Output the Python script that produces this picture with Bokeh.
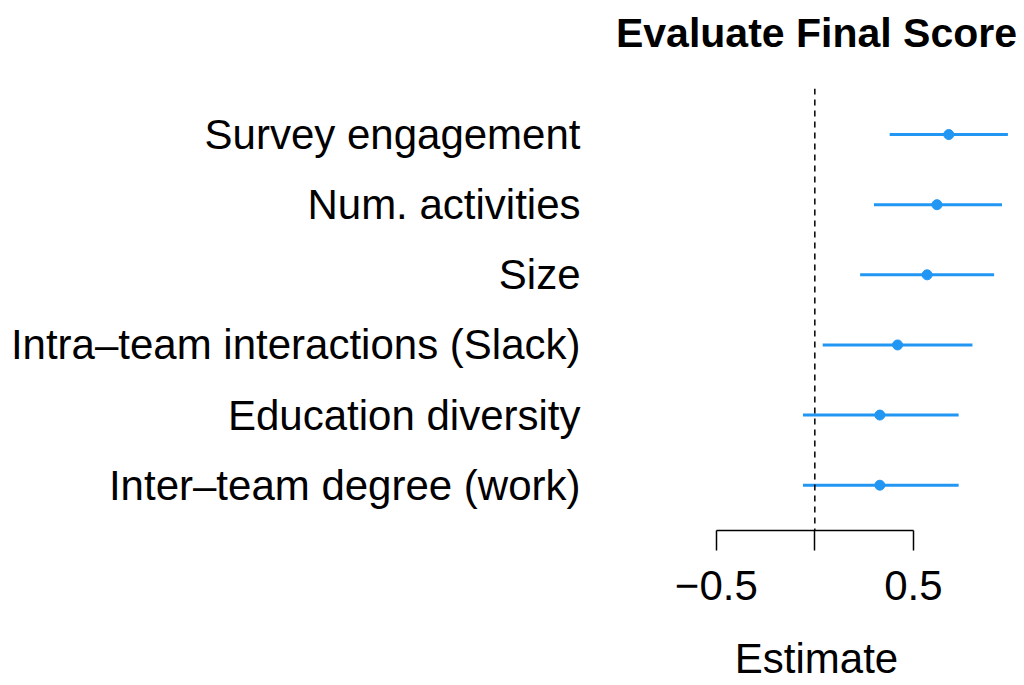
from bokeh.plotting import figure
from bokeh.models import Range1d, FixedTicker, Span, ColumnDataSource, Title
from bokeh.embed import file_html
from bokeh.resources import INLINE

# ---- data ----
labels = ["Survey engagement", "Num. activities", "Size",
          "Intra\u2013team interactions (Slack)", "Education diversity",
          "Inter\u2013team degree (work)"]
estimate = [0.68, 0.62, 0.57, 0.42, 0.33, 0.33]
lower = [0.38, 0.30, 0.23, 0.04, -0.06, -0.06]
upper = [0.98, 0.95, 0.91, 0.80, 0.73, 0.73]
x_ticks = [-0.5, 0.0, 0.5]
x_tick_labels = ["\u22120.5", "", "0.5"]
x_title = "Estimate"
main_title = "Evaluate Final Score"

n = len(labels)
ypos = [n - i for i in range(n)]

src = ColumnDataSource(dict(y=ypos, est=estimate, lo=lower, hi=upper, lab=labels))

FONT = "Liberation Sans"
BLUE = "#2196F3"

p = figure(width=1020, height=685, title=None,
           x_range=Range1d(-1.027, 1.044), y_range=Range1d(0.354, 6.657),
           output_backend="svg", toolbar_location=None,
           min_border_left=612, min_border_right=0,
           min_border_top=88, min_border_bottom=155)

# spacer between the frame and the title
p.add_layout(Title(text=" ", text_font_size="10px", standoff=10), "above")
p.add_layout(Title(text=main_title, text_font=FONT, text_font_style="bold",
                   text_font_size="41px", align="center",
                   vertical_align="top", standoff=16,
                   text_color="black"), "above")

p.outline_line_color = None
p.xgrid.visible = False
p.ygrid.visible = False

# reference line at zero
p.add_layout(Span(location=0, dimension="height", line_color="black",
                  line_width=1.5, line_dash="6 5"))

p.segment(x0="lo", x1="hi", y0="y", y1="y", source=src,
          line_color=BLUE, line_width=3)
p.scatter(x="est", y="y", source=src, size=10, fill_color=BLUE,
          line_color=BLUE)

# x axis
xa = p.xaxis[0]
xa.ticker = FixedTicker(ticks=x_ticks)
xa.bounds = (x_ticks[0], x_ticks[-1])
xa.major_label_overrides = {t: l for t, l in zip(x_ticks, x_tick_labels)}
xa.major_tick_out = 20
xa.major_tick_in = 0
xa.minor_tick_line_color = None
xa.axis_line_color = "black"
xa.axis_line_width = 1.5
xa.major_tick_line_color = "black"
xa.major_tick_line_width = 1.5
xa.major_label_text_font = FONT
xa.major_label_text_font_size = "42px"
xa.major_label_text_color = "black"
xa.major_label_standoff = 20
xa.axis_label = x_title
xa.axis_label_text_font = FONT
xa.axis_label_text_font_size = "42px"
xa.axis_label_text_font_style = "normal"
xa.axis_label_text_color = "black"
xa.axis_label_standoff = 32

# y axis with category labels
ya = p.yaxis[0]
ya.ticker = FixedTicker(ticks=ypos)
ya.major_label_overrides = {y: l for y, l in zip(ypos, labels)}
ya.axis_line_color = None
ya.major_tick_line_color = None
ya.minor_tick_line_color = None
ya.major_tick_out = 0
ya.major_tick_in = 0
ya.major_label_standoff = 32
ya.major_label_text_font = FONT
ya.major_label_text_font_size = "42px"
ya.major_label_text_color = "black"

open("out.html", "w").write(file_html(p, INLINE))
